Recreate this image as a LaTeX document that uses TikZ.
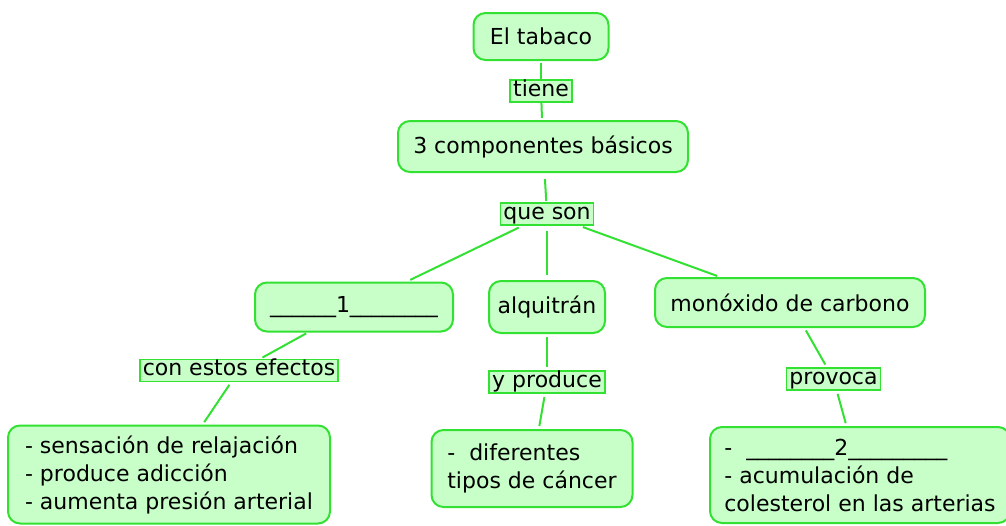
\documentclass[tikz,border=0pt]{standalone}
\usepackage{fontspec}
\setmainfont{DejaVu Sans}
\usepackage{xcolor}
\usetikzlibrary{positioning}

\definecolor{mapgreen}{RGB}{50,225,50}
\definecolor{mapfill}{RGB}{200,255,200}

\begin{document}
\begin{tikzpicture}[
    x=1pt, y=1pt,
    font=\fontsize{22}{28}\selectfont,
    conceptbox/.style={rectangle, draw=mapgreen, line width=2pt, fill=mapfill, rounded corners=12pt, align=left, inner sep=4pt, outer sep=0pt},
    linkbox/.style={rectangle, draw=mapgreen, line width=1.5pt, fill=mapfill, inner xsep=3pt, inner ysep=1pt, outer sep=0pt, text height=15pt, text depth=5pt},
    connector/.style={draw=mapgreen, line width=2pt, shorten <=4pt, shorten >=4pt}
]
\useasboundingbox (0,0) rectangle (1006,-525);

% Top of the map
\node[conceptbox, minimum width=135pt, minimum height=47pt] (tabaco) at (541,-36.5) {El tabaco};
\node[linkbox, below=20pt of tabaco] (tiene) {tiene\ };
\node[conceptbox, minimum width=290pt, minimum height=51pt, below=19pt of tiene, xshift=2pt] (componentes) {3 componentes básicos};
\node[linkbox, below=31pt of componentes, xshift=4pt] (queson) {que son};

% The three components
\node[conceptbox, minimum width=116pt, minimum height=52pt, below=56pt of queson] (alquitran) {alquitrán};
\node[conceptbox, minimum width=198pt, minimum height=49pt, left=36pt of alquitran] (uno) {\_\_\_\_\_\_1\_\_\_\_\_\_\_\_};
\node[conceptbox, minimum width=270pt, minimum height=49pt, right=50pt of alquitran, yshift=4.5pt] (monoxido) {monóxido de carbono};

% Linking words
\node[linkbox, below=28pt of uno, xshift=-115pt] (efectos) {con estos efectos};
\node[linkbox, below=38pt of alquitran] (produce) {y produce};
\node[linkbox, below=41pt of monoxido, xshift=43.5pt] (provoca) {provoca};

% Bottom row
\node[conceptbox, minimum width=322pt, minimum height=98pt, below=44pt of efectos, xshift=-70pt] (sintomas) {- sensación de relajación\\- produce adicción\\- aumenta presión arterial};
\node[conceptbox, minimum width=201pt, minimum height=77pt, below=37pt of produce, xshift=-15pt] (cancer) {-\ \ diferentes\\tipos de cáncer};
\node[conceptbox, minimum width=300pt, minimum height=96pt, below=37pt of provoca, xshift=26.5pt] (arterias) {-\ \ \_\_\_\_\_\_\_\_2\_\_\_\_\_\_\_\_\_\\- acumulación de\\colesterol en las arterias};

% Connections
\draw[connector, shorten <=3pt, shorten >=0pt] (tabaco) -- (tiene);
\draw[connector, shorten <=0pt, shorten >=3pt] (tiene) -- (componentes);
\draw[connector, shorten <=7pt, shorten >=2pt] (componentes) -- (queson);
\draw[connector, shorten <=6pt, shorten >=6pt] (queson) -- (uno);
\draw[connector, shorten <=6pt, shorten >=6pt] (queson) -- (alquitran);
\draw[connector, shorten <=6pt, shorten >=6pt] (queson) -- (monoxido);

\draw[connector] (uno) -- (efectos);
\draw[connector] (efectos) -- (sintomas);
\draw[connector] (alquitran) -- (produce);
\draw[connector] (produce) -- (cancer);
\draw[connector] (monoxido) -- (provoca);
\draw[connector] (provoca) -- (arterias);

\end{tikzpicture}
\end{document}
